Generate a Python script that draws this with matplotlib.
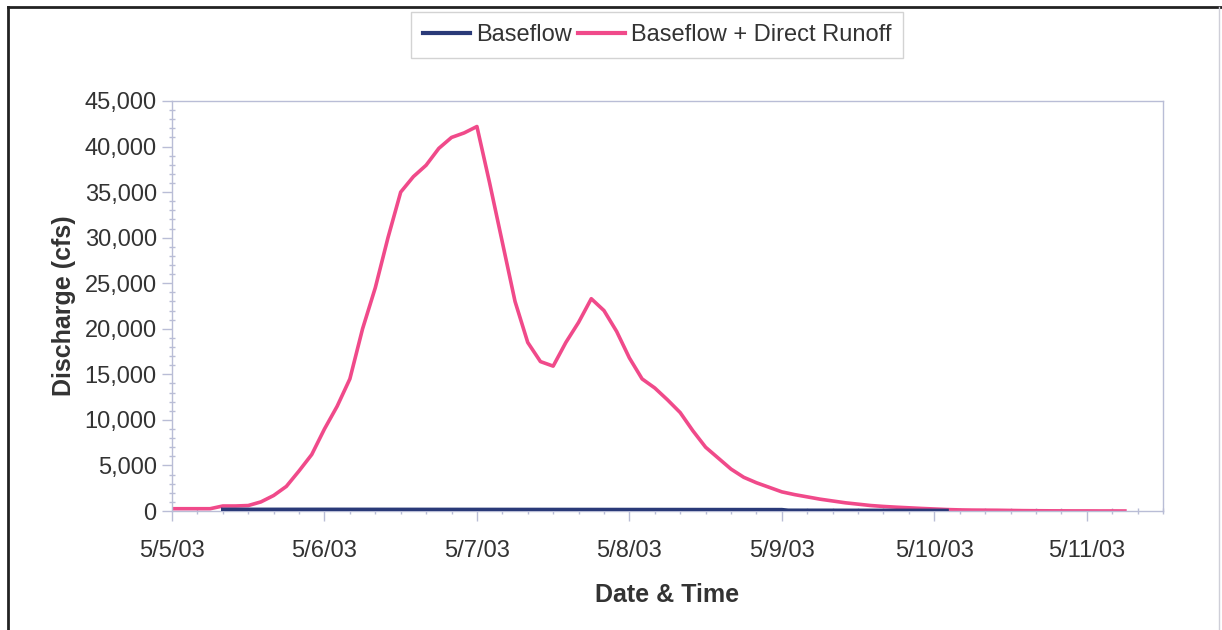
import datetime as dt
import matplotlib
matplotlib.use("Agg")
import matplotlib.pyplot as plt
import matplotlib.dates as mdates
from matplotlib.ticker import FuncFormatter, MultipleLocator
from matplotlib.lines import Line2D

plt.rcParams['font.family'] = ['Liberation Sans', 'DejaVu Sans']

# hours after 5/5/03 00:00, every 2 hours
runoff_hours = list(range(0, 152, 2))
runoff_cfs = [250, 250, 250, 250, 550, 550, 600, 1000, 1700, 2700,
              4400, 6200, 9000, 11500, 14500, 20000, 24500, 30000, 35000, 36700,
              37950, 39800, 41000, 41500, 42200, 36000, 29500, 23000, 18500, 16400,
              15900, 18500, 20700, 23300, 22000, 19700, 16800, 14500, 13500, 12200,
              10800, 8800, 7000, 5800, 4600, 3700, 3100, 2600, 2100, 1800,
              1550, 1300, 1100, 900, 750, 600, 500, 420, 350, 280,
              220, 160, 120, 100, 90, 80, 60, 40, 30, 20,
              15, 10, 10, 5, 5, 0]

baseflow_hours = [8, 24, 48, 72, 96, 97, 110, 122]
baseflow_cfs = [180, 180, 170, 160, 150, 80, 70, 60]

start = dt.datetime(2003, 5, 5)
runoff_t = [start + dt.timedelta(hours=h) for h in runoff_hours]
base_t = [start + dt.timedelta(hours=h) for h in baseflow_hours]

pink = '#f04a8a'
navy = '#2a3a78'
txt = '#333333'
edge = '#b9bdd6'

fig = plt.figure(figsize=(12.22, 6.30), dpi=100)
ax = fig.add_axes([172 / 1222, 119 / 630, 991 / 1222, 410 / 630])

ax.plot(base_t, baseflow_cfs, color=navy, lw=2.6, label='Baseflow', zorder=3)
ax.plot(runoff_t, runoff_cfs, color=pink, lw=2.6, label='Baseflow + Direct Runoff', zorder=2)

ax.set_xlim(start, start + dt.timedelta(days=6.5))
ax.set_ylim(0, 45000)

ax.xaxis.set_major_locator(mdates.DayLocator())
ax.xaxis.set_minor_locator(mdates.HourLocator(byhour=range(0, 24, 4)))
ax.xaxis.set_major_formatter(FuncFormatter(
    lambda v, p: '{d.month}/{d.day}/{y}'.format(d=mdates.num2date(v), y=mdates.num2date(v).strftime('%y'))))
ax.yaxis.set_major_locator(MultipleLocator(5000))
ax.yaxis.set_minor_locator(MultipleLocator(1000))
ax.yaxis.set_major_formatter(FuncFormatter(lambda v, p: '{:,.0f}'.format(v)))

ax.tick_params(axis='both', which='major', labelsize=17, labelcolor=txt, color=edge, width=1, length=7)
ax.tick_params(axis='both', which='minor', color=edge, width=1, length=5, direction='inout')
ax.tick_params(axis='x', which='major', pad=14)
ax.tick_params(axis='y', which='major', pad=4)

for s in ax.spines.values():
    s.set_color(edge)
    s.set_linewidth(1)

ax.set_ylabel('Discharge (cfs)', fontsize=18, fontweight='bold', color=txt, labelpad=6)
ax.set_xlabel('Date & Time', fontsize=18, fontweight='bold', color=txt, labelpad=15)

leg = fig.legend(loc='center', bbox_to_anchor=(657 / 1222, 1 - 35 / 630), ncol=2, fontsize=17,
                 frameon=True, fancybox=False, handlelength=2.0, handletextpad=0.25,
                 columnspacing=0.25, borderpad=0.5, borderaxespad=0)
leg.get_frame().set_edgecolor('#c8c8c8')
leg.get_frame().set_linewidth(1)
for t in leg.get_texts():
    t.set_color(txt)
for l in leg.get_lines():
    l.set_linewidth(3)

# chart border (scanned page)
fig.add_artist(Line2D([8 / 1222, 1222 / 1222], [1 - 7 / 630, 1 - 7 / 630], color='#222222', lw=2))
fig.add_artist(Line2D([8 / 1222, 8 / 1222], [0, 1 - 7 / 630], color='#222222', lw=2))
fig.add_artist(Line2D([1219 / 1222, 1219 / 1222], [0, 1 - 7 / 630], color='#cfcfd8', lw=1))

fig.savefig('out.png', dpi=100)
